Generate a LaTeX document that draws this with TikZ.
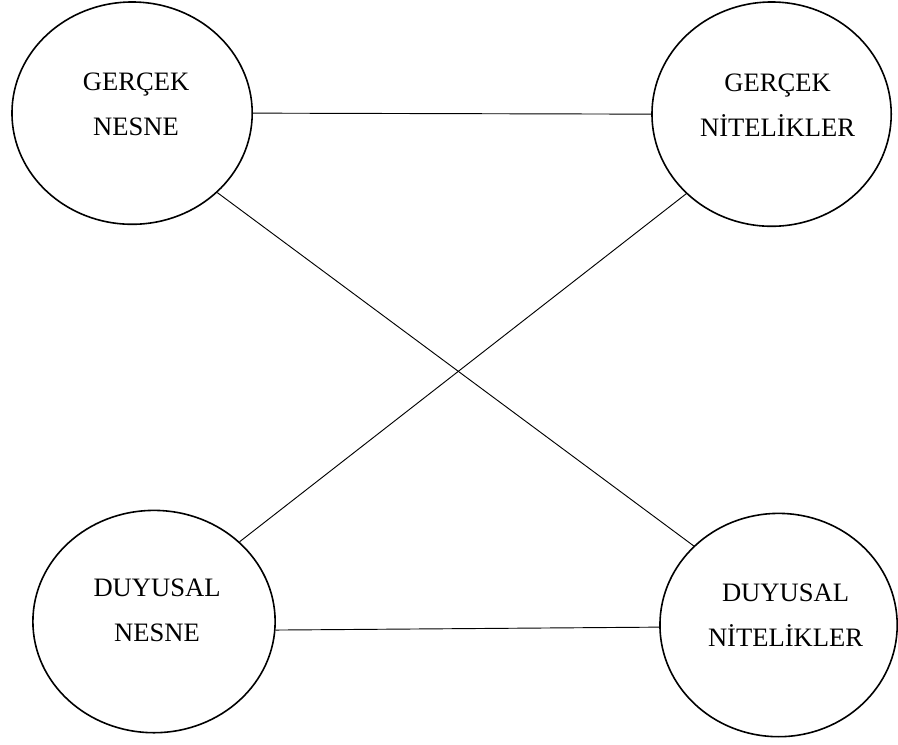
\documentclass[tikz,border=0pt]{standalone}
\usepackage{fontspec}
\setmainfont{Liberation Serif}
\usetikzlibrary{calc}
\usetikzlibrary{shapes.geometric}

\begin{document}
\begin{tikzpicture}[x=0.75pt,y=0.75pt,oval/.style={ellipse,draw,line width=1.2pt,inner sep=0},caption/.style={align=center,inner sep=0,font=\fontsize{20pt}{33.75pt}\selectfont},outer box/.style={draw=none,outer sep=0,inner sep=0},wire/.style={draw,line width=0.7pt}]
  \node[outer box,minimum width=673.5pt,minimum height=560.25pt] (root) at (449,373.5) {};
  \node[oval,minimum width=180.75pt,minimum height=167.25pt] (n1) at (132.5,633.5) {};
  \node[oval,minimum width=180pt,minimum height=168.75pt] (n2) at (774,632.5) {};
  \node[oval,minimum width=182.25pt,minimum height=167.25pt] (n3) at (154.5,123.5) {};
  \node[oval,minimum width=178.5pt,minimum height=168pt] (n4) at (781,120) {};
  \node[caption] (t1) at ($(n1)+(4,9)$) {GERÇEK\\NESNE};
  \node[caption] (t2) at ($(n2)+(6,9)$) {GERÇEK\\NİTELİKLER};
  \node[caption] (t3) at ($(n3)+(3,11)$) {DUYUSAL\\NESNE};
  \node[caption] (t4) at ($(n4)+(7,10)$) {DUYUSAL\\NİTELİKLER};
  \path[wire] (n1.east) -- (n2.west);
  \path[wire] (n1.-43) -- (n4.137);
  \path[wire] (n2.-137) -- (n3.43);
  \path[wire] (n3.-4.5) -- (n4.181.5);
\end{tikzpicture}
\end{document}
